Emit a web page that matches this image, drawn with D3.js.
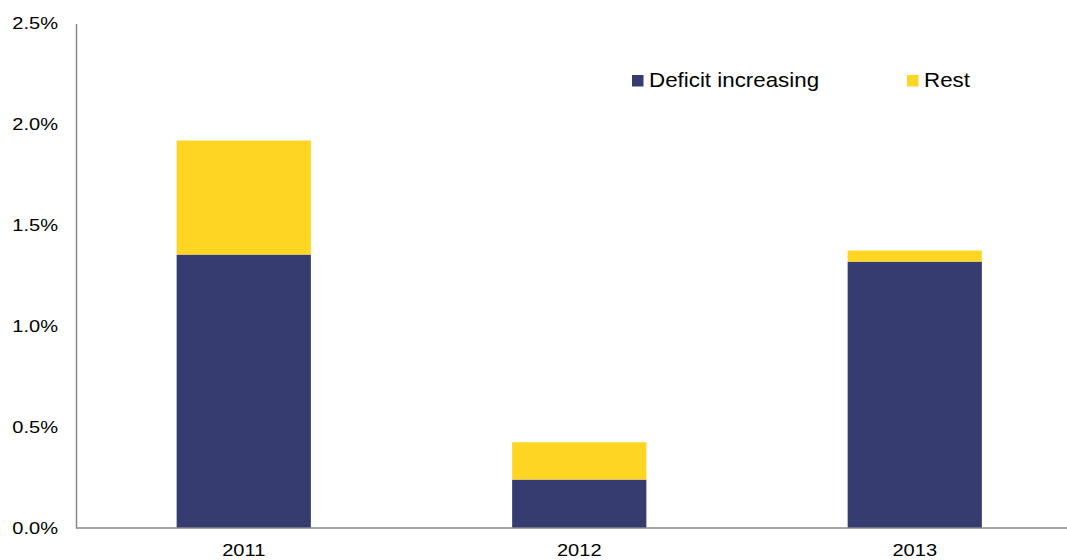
<!DOCTYPE html>
<html><head><meta charset="utf-8">
<script src="https://cdn.jsdelivr.net/npm/d3@7"></script>
<style>body{margin:0;background:#fff;} text{font-family:"Liberation Sans",Arial,sans-serif;fill:#000;}</style>
</head><body>
<svg id="c" width="1067" height="560"></svg>
<script>
const categories = ["2011", "2012", "2013"];
const deficitIncreasing = [1.355, 0.24, 1.32];
const rest = [0.565, 0.185, 0.055];
const yTicks = [0, 0.5, 1.0, 1.5, 2.0, 2.5];
const seriesNames = ["Deficit increasing", "Rest"];
const colors = ["#363B70", "#FFD524"];

const svg = d3.select("#c");
const x = d3.scaleBand().domain(categories).range([76, 1082.5]).paddingInner(0.6).paddingOuter(0.3);
const y = d3.scaleLinear().domain([0, 2.5]).range([528, 23.5]);

const data = categories.map((c, i) => ({cat: c, "Deficit increasing": deficitIncreasing[i], "Rest": rest[i]}));
const stack = d3.stack().keys(seriesNames)(data);

svg.append("g").selectAll("g").data(stack).join("g")
  .attr("fill", (d, i) => colors[i])
  .selectAll("rect").data(d => d).join("rect")
  .attr("x", d => x(d.data.cat))
  .attr("width", x.bandwidth())
  .attr("y", d => y(d[1]))
  .attr("height", d => y(d[0]) - y(d[1]));

const sx = 1.18;
// axes
const yAxis = svg.append("g").attr("transform", "translate(76,0)")
  .call(d3.axisLeft(y).tickValues(yTicks).tickFormat(d => d.toFixed(1) + "%").tickSize(0));
yAxis.select(".domain").attr("stroke", "#898989").attr("stroke-width", 1.5);
yAxis.selectAll("text").style("font-size", "17px").style("font-family", "Liberation Sans, Arial, sans-serif")
  .attr("x", -18 / sx).attr("transform", `scale(${sx},1)`);

const xAxis = svg.append("g").attr("transform", "translate(0,528)")
  .call(d3.axisBottom(x).tickSize(0).tickPadding(16));
xAxis.select(".domain").attr("stroke", "#898989").attr("stroke-width", 1.5).attr("d", "M76,0H1067");
xAxis.selectAll("text").style("font-size", "17px").style("font-family", "Liberation Sans, Arial, sans-serif")
  .attr("transform", `scale(${sx},1)`);

// legend
const legX = [632, 907];
const lsx = 1.09;
const leg = svg.append("g");
seriesNames.forEach((n, i) => {
  leg.append("rect").attr("x", legX[i]).attr("y", 75).attr("width", 11.5).attr("height", 11.5).attr("fill", colors[i]);
  leg.append("text").attr("x", (legX[i] + 17) / lsx).attr("y", 87.5)
    .attr("transform", `scale(${lsx},1)`).style("font-size", "20.5px").text(n);
});
</script>
</body></html>
